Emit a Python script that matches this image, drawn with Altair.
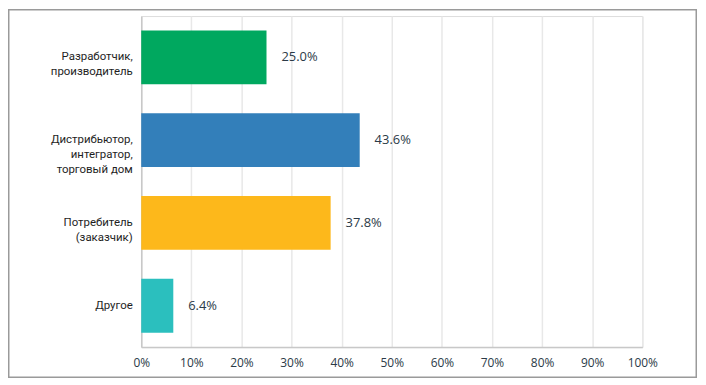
import altair as alt
import pandas as pd

categories = [
    "Разработчик,|производитель",
    "Дистрибьютор,|интегратор,|торговый дом",
    "Потребитель|(заказчик)",
    "Другое",
]
values = [25.0, 43.6, 37.8, 6.4]
colors = ["#00A85F", "#337FBA", "#FDB81B", "#2BBFBE"]
x_ticks = [0, 10, 20, 30, 40, 50, 60, 70, 80, 90, 100]

df = pd.DataFrame({"cat": categories, "value": values, "color": colors})

base = alt.Chart(df).encode(
    y=alt.Y(
        "cat:N",
        sort=categories,
        scale=alt.Scale(paddingInner=0.35, paddingOuter=0.175),
        axis=alt.Axis(
            title=None,
            ticks=False,
            labelPadding=9,
            labelExpr="split(datum.label, '|')",
            labelFont="Roboto",
            labelFontSize=11.5,
            labelColor="#1e1e1e",
            labelLineHeight=15,
            domainColor="#c8c8c8",
            domainWidth=1.5,
            grid=False,
        ),
    )
)

bars = base.mark_bar().encode(
    x=alt.X(
        "value:Q",
        scale=alt.Scale(domain=[0, 100], nice=False),
        axis=alt.Axis(
            title=None,
            values=x_ticks,
            ticks=False,
            labelPadding=10,
            labelFlush=False,
            labelOverlap=False,
            labelExpr="datum.value + '%'",
            labelFont="Open Sans",
            labelFontSize=12,
            labelColor="#2b3a47",
            domainColor="#c8c8c8",
            domainWidth=1.5,
            gridColor="#e8e8e8",
            gridWidth=1.5,
        ),
    ),
    color=alt.Color("color:N", scale=None),
)

labels = base.mark_text(
    align="left", baseline="middle", dx=15, font="Open Sans", fontSize=13,
    fontWeight=500, color="#2b3a47"
).transform_calculate(
    lbl="format(datum.value, '.1f') + '%'"
).encode(
    x="value:Q",
    text="lbl:N",
)

frame = alt.Chart(pd.DataFrame({"a": [0]})).mark_rect(
    fill=None, stroke="#9a9a9a", strokeWidth=1.5
).encode(
    x=alt.value(-133.25),
    x2=alt.value(558.25),
    y=alt.value(-6.25),
    y2=alt.value(363.25),
)

chart = alt.layer(bars, labels, frame).properties(
    width=504,
    height=333,
    autosize=alt.AutoSizeParams(type="none"),
    padding={"left": 134, "top": 7, "right": 56, "bottom": 33},
).configure_view(stroke=None).configure(background="white")

chart.save("out.html", embed_options={"renderer": "svg", "actions": False})
